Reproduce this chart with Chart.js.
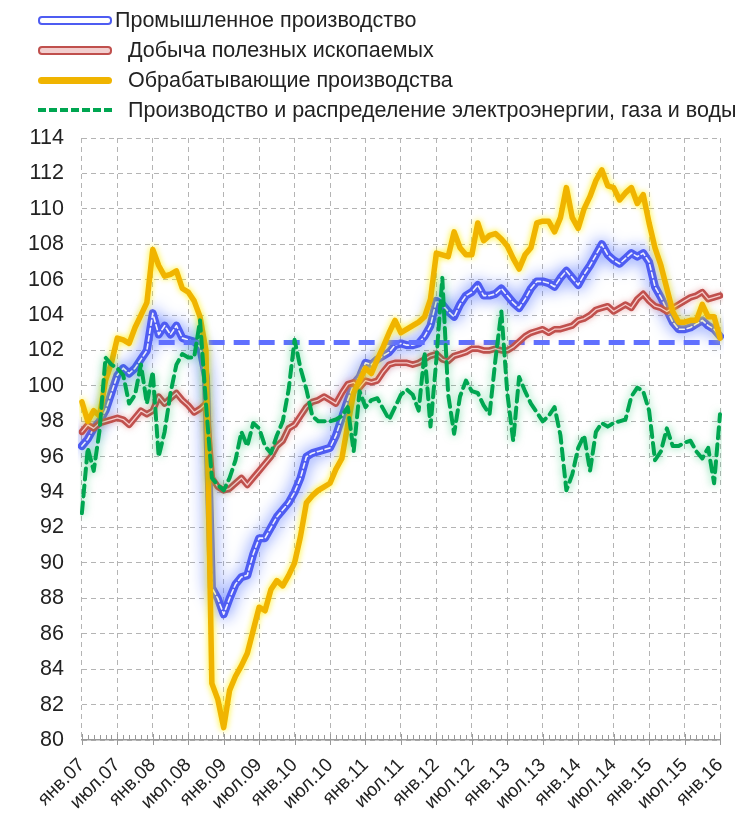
<!DOCTYPE html>
<html lang="ru">
<head>
<meta charset="utf-8">
<title>Индексы производства</title>
<script src="https://cdn.jsdelivr.net/npm/chart.js@4.4.1/dist/chart.umd.min.js"></script>
<style>
    html, body { margin: 0; padding: 0; background: #fff; }
    #wrap { position: relative; width: 738px; height: 817px; }
    #legend { position: absolute; left: 0; top: 0; font-family: "Liberation Sans", Arial, sans-serif; font-size: 21.5px; color: #222; }
    .row { position: absolute; left: 38px; height: 30px; display: flex; align-items: center; white-space: nowrap; }
    .sw { width: 74px; box-sizing: border-box; border-radius: 4px; }
</style>
</head>
<body>
<div id="wrap">
    <canvas id="prodChart" width="738" height="817"></canvas>
    <div id="legend"></div>
</div>
<script>
// подписи рядов
const seriesNames = [
    'Промышленное производство',
    'Добыча полезных ископаемых',
    'Обрабатывающие производства',
    'Производство и распределение электроэнергии, газа и воды'
];

// месяцы янв.07 ... янв.16
const monthNames = ['янв', 'фев', 'мар', 'апр', 'май', 'июн', 'июл', 'авг', 'сен', 'окт', 'ноя', 'дек'];
const months = [];
for (let y = 7; y <= 16; y++) {
    for (let m = 0; m < 12; m++) {
        if (y === 16 && m > 0) break;
        months.push(monthNames[m] + '.' + String(y).padStart(2, '0'));
    }
}

const industry = [
    96.6, 97.0, 97.6, 98.0, 98.6, 99.6, 100.6, 101.0, 100.7, 101.0, 101.5, 102.0,
    104.1, 102.9, 103.4, 102.9, 103.4, 102.7, 102.6, 102.5, 102.2, 100.5, 88.6, 88.0,
    87.1, 88.0, 88.8, 89.2, 89.3, 90.5, 91.4, 91.4, 92.0, 92.6, 93.0, 93.4,
    94.0, 94.8, 96.0, 96.2, 96.3, 96.4, 96.5, 97.2, 98.2, 99.2, 100.1, 100.5,
    101.3, 101.2, 101.5, 101.7, 101.9, 102.3, 102.4, 102.3, 102.3, 102.4, 102.8, 103.4,
    104.8, 104.6, 104.2, 103.9, 104.6, 105.1, 105.3, 105.7, 105.1, 105.1, 105.2, 105.5,
    105.1, 104.7, 104.4, 104.9, 105.5, 105.9, 105.9, 105.8, 105.6, 106.1, 106.5, 106.1,
    105.7, 106.3, 106.8, 107.4, 108.0, 107.4, 107.1, 106.9, 107.2, 107.5, 107.3, 107.5,
    107.0, 105.6, 105.0, 104.3, 103.6, 103.2, 103.2, 103.3, 103.5, 103.7, 103.4, 103.2,
    102.8
];

const mining = [
    97.4, 97.8, 97.6, 97.9, 98.0, 98.1, 98.2, 98.1, 97.8, 98.2, 98.6, 98.4,
    98.6, 99.4, 99.0, 99.3, 99.6, 99.2, 98.9, 98.5, 98.7, 99.0, 94.8, 94.3,
    94.1, 94.2, 94.5, 94.8, 94.4, 94.8, 95.2, 95.6, 96.0, 96.6, 96.9, 97.6,
    97.8, 98.3, 98.8, 99.1, 99.2, 99.4, 99.2, 99.0, 99.6, 100.1, 100.2, 99.9,
    100.3, 100.2, 100.3, 100.8, 101.2, 101.3, 101.3, 101.3, 101.2, 101.3, 101.5, 101.7,
    101.8, 101.5, 101.4, 101.7, 101.8, 101.9, 102.1, 102.1, 102.0, 102.0, 102.1, 102.0,
    102.0, 102.2, 102.5, 102.8, 103.0, 103.1, 103.2, 103.0, 103.2, 103.2, 103.3, 103.4,
    103.7, 103.8, 104.0, 104.3, 104.4, 104.5, 104.2, 104.4, 104.6, 104.4, 104.9, 105.2,
    104.8, 104.5, 104.4, 104.2, 104.4, 104.6, 104.8, 105.0, 105.1, 105.3, 104.9, 105.0,
    105.1
];

const manufacturing = [
    99.1, 98.0, 98.6, 98.3, 100.3, 101.3, 102.7, 102.6, 102.4, 103.3, 104.0, 104.7,
    107.7, 106.8, 106.2, 106.3, 106.5, 105.5, 105.3, 104.8, 103.9, 102.0, 83.2, 82.3,
    80.7, 82.8, 83.6, 84.2, 84.9, 86.2, 87.5, 87.3, 88.5, 89.0, 88.7, 89.3,
    90.0, 91.5, 93.4, 93.8, 94.1, 94.3, 94.5, 95.3, 95.9, 97.8, 99.6, 100.3,
    101.0, 100.7, 101.5, 102.2, 103.0, 103.7, 103.0, 103.2, 103.4, 103.6, 103.9, 104.9,
    107.5, 107.4, 107.3, 108.7, 107.8, 107.4, 107.4, 109.2, 108.2, 108.5, 108.6, 108.3,
    107.9, 107.2, 106.6, 107.4, 107.8, 109.2, 109.3, 109.3, 108.7, 109.5, 111.2, 109.5,
    108.9, 110.0, 110.7, 111.6, 112.2, 111.3, 111.2, 110.5, 110.9, 111.2, 110.3, 110.8,
    109.2, 107.8, 106.8, 105.5, 104.2, 103.6, 103.6, 103.7, 103.7, 104.6, 103.9, 103.9,
    102.7
];

const utilities = [
    92.8, 96.5, 95.2, 97.5, 101.6, 101.2, 101.0, 100.6, 99.0, 99.5, 101.2, 99.0,
    100.8, 96.0, 97.4, 99.6, 101.2, 101.8, 101.6, 101.6, 103.7, 99.0, 94.8, 94.4,
    94.1, 94.8, 95.8, 97.4, 96.6, 97.9, 97.6, 96.6, 96.2, 97.2, 98.0, 99.8,
    102.6, 101.0, 99.8, 98.3, 98.0, 98.0, 98.0, 98.1, 98.3, 98.8, 96.3, 99.7,
    98.8, 99.2, 99.3, 98.7, 98.1, 98.8, 99.5, 99.8, 99.5, 98.6, 101.9, 97.7,
    101.5, 106.1, 99.5, 97.3, 99.4, 100.3, 99.7, 99.6, 98.9, 98.4, 101.5, 104.2,
    99.6, 96.9, 100.5, 99.7, 99.0, 98.5, 98.0, 98.3, 98.8, 97.2, 94.1, 95.0,
    96.5, 97.2, 95.2, 97.4, 97.9, 97.7, 97.9, 98.0, 98.1, 99.4, 99.9, 99.7,
    98.6, 95.8, 96.3, 97.6, 96.6, 96.6, 96.8, 96.9, 96.3, 95.9, 96.5, 94.5,
    98.4
];

// уровень промышленного производства до кризиса (пунктир)
const preCrisisLevel = 102.45;
const preCrisisFrom = 'фев.08';

const yTicks = [80, 82, 84, 86, 88, 90, 92, 94, 96, 98, 100, 102, 104, 106, 108, 110, 112, 114];

const blue = '#4e5cf2';
const red = '#c0504d';
const yellow = '#f0b400';
const green = '#00a651';
const fontFamily = '"Liberation Sans", Arial, sans-serif';

// свечение вокруг линий
const glowPlugin = {
    id: 'glow',
    beforeDatasetDraw(chart, args) {
        const ds = chart.data.datasets[args.index];
        if (!ds.glow) return;
        chart.ctx.save();
        chart.ctx.shadowColor = ds.glow;
        chart.ctx.shadowBlur = ds.glowBlur || 10;
    },
    afterDatasetDraw(chart, args) {
        const ds = chart.data.datasets[args.index];
        if (!ds.glow) return;
        chart.ctx.restore();
    }
};

// мелкие засечки по месяцам на оси X
const monthTicksPlugin = {
    id: 'monthTicks',
    afterDraw(chart) {
        const x = chart.scales.x;
        const yb = chart.chartArea.bottom;
        const ctx = chart.ctx;
        ctx.save();
        ctx.strokeStyle = '#999';
        ctx.lineWidth = 1;
        months.forEach((m, i) => {
            const px = Math.round(x.getPixelForValue(i)) + 0.5;
            ctx.beginPath();
            if (i % 6 === 0) {
                ctx.moveTo(px, yb - 6);
                ctx.lineTo(px, yb + 5);
            } else {
                ctx.moveTo(px, yb - 5);
                ctx.lineTo(px, yb);
            }
            ctx.stroke();
        });
        ctx.restore();
    }
};

function buildLegend() {
    const box = document.getElementById('legend');
    const swatches = [
        'height:9px;background:#fff;border:2.5px solid ' + blue,
        'height:9px;background:#f2cfcf;border:2.5px solid ' + red,
        'height:7px;background:' + yellow,
        'height:0;border-radius:0;border-top:4px dashed ' + green
    ];
    const gaps = [3, 16, 16, 16];
    seriesNames.forEach((name, i) => {
        const row = document.createElement('div');
        row.className = 'row';
        row.style.top = (5 + i * 30) + 'px';
        row.innerHTML = '<span class="sw" style="' + swatches[i] + '"></span>' +
            '<span style="margin-left:' + gaps[i] + 'px">' + name + '</span>';
        box.appendChild(row);
    });
}

function initChart() {
    const ctx = document.getElementById('prodChart');
    const startIdx = months.indexOf(preCrisisFrom);
    const refLine = months.map((m, i) => i >= startIdx ? preCrisisLevel : null);

    new Chart(ctx, {
        type: 'line',
        data: {
            labels: months,
            datasets: [{
                label: seriesNames[3],
                data: utilities,
                borderColor: green,
                borderWidth: 4,
                borderDash: [11, 6],
                glow: 'rgba(0, 190, 90, 0.55)',
                glowBlur: 8,
                order: 0
            }, {
                label: seriesNames[2],
                data: manufacturing,
                borderColor: yellow,
                borderWidth: 5.5,
                glow: 'rgba(255, 240, 0, 0.9)',
                glowBlur: 6,
                order: 1
            }, {
                label: 'red-inner',
                data: mining,
                borderColor: 'rgba(255, 225, 225, 0.85)',
                borderWidth: 1.3,
                order: 2
            }, {
                label: seriesNames[1],
                data: mining,
                borderColor: red,
                borderWidth: 6.5,
                glow: 'rgba(220, 110, 110, 0.5)',
                glowBlur: 6,
                order: 3
            }, {
                label: 'ref',
                data: refLine,
                borderColor: '#6070ff',
                borderWidth: 5,
                borderDash: [16, 9],
                borderCapStyle: 'butt',
                order: 4
            }, {
                label: 'blue-inner',
                data: industry,
                borderColor: 'rgba(255, 255, 255, 0.9)',
                borderWidth: 1.6,
                borderDash: [5, 3],
                order: 5
            }, {
                label: seriesNames[0],
                data: industry,
                borderColor: blue,
                borderWidth: 8,
                glow: 'rgba(90, 120, 255, 0.95)',
                glowBlur: 16,
                order: 6
            }]
        },
        options: {
            responsive: false,
            animation: false,
            layout: {
                padding: { top: 138, right: 18, bottom: 2, left: 10 }
            },
            elements: {
                point: { radius: 0 },
                line: { tension: 0, borderJoinStyle: 'round', borderCapStyle: 'round', fill: false }
            },
            plugins: {
                legend: { display: false },
                tooltip: { enabled: false }
            },
            scales: {
                x: {
                    afterFit: function(scale) {
                        scale.paddingLeft = 0;
                        scale.paddingRight = 0;
                        scale.height = 75;
                    },
                    ticks: {
                        autoSkip: false,
                        maxRotation: 45,
                        minRotation: 45,
                        padding: 14,
                        color: '#222',
                        font: { family: fontFamily, size: 19 },
                        callback: function(value, index) {
                            return index % 6 === 0 ? months[index] : '';
                        }
                    },
                    grid: {
                        color: function(c) {
                            return c.index % 6 === 0 ? '#b4b4b4' : 'transparent';
                        },
                        drawTicks: false
                    },
                    border: { display: true, color: '#999', width: 1.5, dash: [5, 4] }
                },
                y: {
                    min: yTicks[0],
                    max: yTicks[yTicks.length - 1],
                    afterBuildTicks: function(axis) {
                        axis.ticks = yTicks.map(v => ({ value: v }));
                    },
                    ticks: {
                        padding: 18,
                        color: '#222',
                        font: { family: fontFamily, size: 21.5 }
                    },
                    grid: { color: '#b4b4b4', drawTicks: false },
                    border: { display: false, dash: [5, 4] }
                }
            }
        },
        plugins: [glowPlugin, monthTicksPlugin]
    });
}

document.addEventListener('DOMContentLoaded', function() {
    buildLegend();
    initChart();
});
</script>
</body>
</html>
